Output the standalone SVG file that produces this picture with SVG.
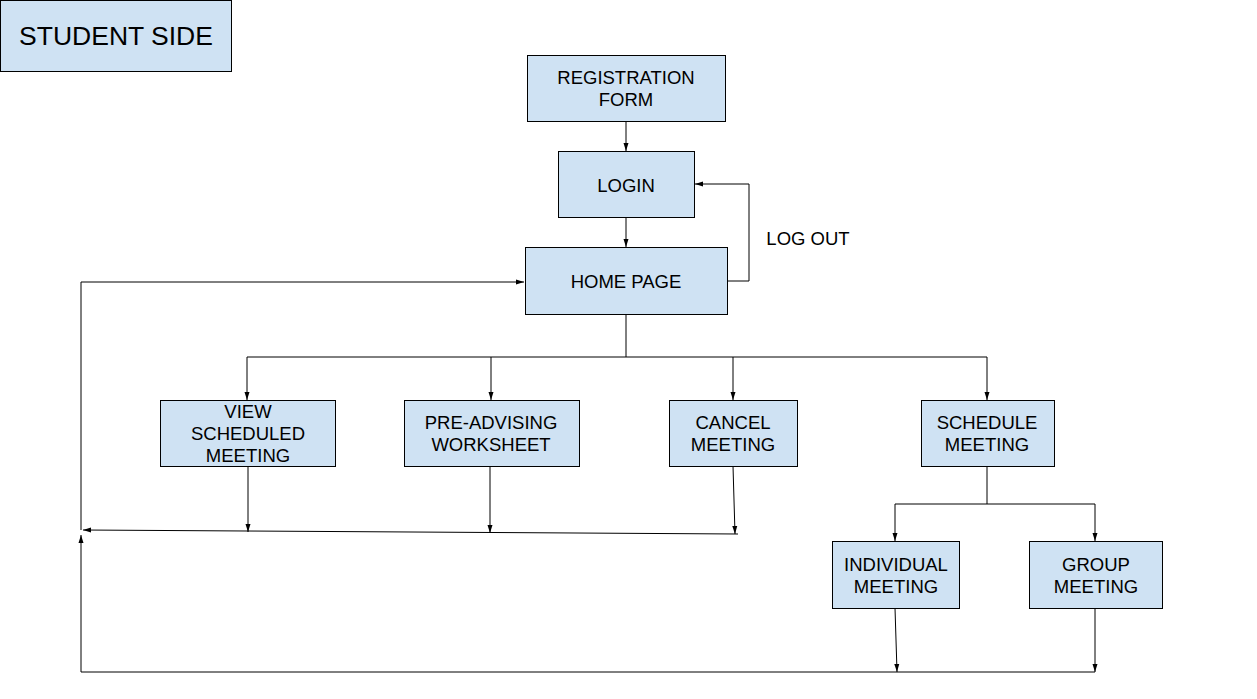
<svg xmlns="http://www.w3.org/2000/svg" width="1257" height="699" viewBox="0 0 1257 699">
<style>
.box{fill:#cfe2f3;stroke:#000;stroke-width:1}
.t{font-family:"Liberation Sans",Arial,sans-serif;font-size:18.5px;fill:#000;text-anchor:middle;dominant-baseline:central}
.c{fill:none;stroke:#000;stroke-width:1}
</style>
<defs>
<marker id="a" viewBox="0 0 8 8" refX="8" refY="4" markerWidth="8" markerHeight="8" markerUnits="userSpaceOnUse" orient="auto">
<path d="M0,1.5 L8,4 L0,6.5 z" fill="#000"/>
</marker>
</defs>
<rect width="1257" height="699" fill="#fff"/>
<g id="connectors">
<path class="c" d="M626,121 V151" marker-end="url(#a)"/>
<path class="c" d="M626,217 V247" marker-end="url(#a)"/>
<path class="c" d="M727,281 H749 V184 H695" marker-end="url(#a)"/>
<path class="c" d="M626,314 V357"/>
<path class="c" d="M247,357 H987"/>
<path class="c" d="M247,357 V400" marker-end="url(#a)"/>
<path class="c" d="M491,357 V400" marker-end="url(#a)"/>
<path class="c" d="M733,357 V400" marker-end="url(#a)"/>
<path class="c" d="M987,357 V400" marker-end="url(#a)"/>
<path class="c" d="M987,466 V504"/>
<path class="c" d="M895,504 H1095"/>
<path class="c" d="M895,504 V541" marker-end="url(#a)"/>
<path class="c" d="M1095,504 V541" marker-end="url(#a)"/>
<path class="c" d="M248,466 V532" marker-end="url(#a)"/>
<path class="c" d="M490,466 V533" marker-end="url(#a)"/>
<path class="c" d="M733,466 L735,534" marker-end="url(#a)"/>
<path class="c" d="M738,534 L83,530" marker-end="url(#a)"/>
<path class="c" d="M81,530 V282 H524" marker-end="url(#a)"/>
<path class="c" d="M81,672 V535" marker-end="url(#a)"/>
<path class="c" d="M81,672 H1095"/>
<path class="c" d="M895,608 L897,672" marker-end="url(#a)"/>
<path class="c" d="M1095,608 V672" marker-end="url(#a)"/>
</g>
<g id="student-side">
<rect class="box" x="0.5" y="0.5" width="231" height="71"/>
<text class="t" x="116" y="36" style="font-size:26.5px">STUDENT SIDE</text>
</g>
<g id="registration-form">
<rect class="box" x="527.5" y="55.5" width="198" height="66"/>
<text class="t" x="626" y="77">REGISTRATION</text>
<text class="t" x="626" y="99">FORM</text>
</g>
<g id="login">
<rect class="box" x="558.5" y="151.5" width="136" height="66"/>
<text class="t" x="626" y="185">LOGIN</text>
</g>
<g id="home-page">
<rect class="box" x="525.5" y="247.5" width="202" height="67"/>
<text class="t" x="626" y="281">HOME PAGE</text>
</g>
<g id="log-out-label">
<text class="t" x="808" y="238">LOG OUT</text>
</g>
<g id="view-scheduled-meeting">
<rect class="box" x="160.5" y="400.5" width="175" height="66"/>
<text class="t" x="248" y="411">VIEW</text>
<text class="t" x="248" y="433">SCHEDULED</text>
<text class="t" x="248" y="455">MEETING</text>
</g>
<g id="pre-advising-worksheet">
<rect class="box" x="404.5" y="400.5" width="175" height="66"/>
<text class="t" x="491" y="422">PRE-ADVISING</text>
<text class="t" x="491" y="444">WORKSHEET</text>
</g>
<g id="cancel-meeting">
<rect class="box" x="669.5" y="400.5" width="128" height="66"/>
<text class="t" x="733" y="422">CANCEL</text>
<text class="t" x="733" y="444">MEETING</text>
</g>
<g id="schedule-meeting">
<rect class="box" x="921.5" y="400.5" width="133" height="66"/>
<text class="t" x="987" y="422">SCHEDULE</text>
<text class="t" x="987" y="444">MEETING</text>
</g>
<g id="individual-meeting">
<rect class="box" x="832.5" y="541.5" width="127" height="67"/>
<text class="t" x="896" y="564">INDIVIDUAL</text>
<text class="t" x="896" y="586">MEETING</text>
</g>
<g id="group-meeting">
<rect class="box" x="1029.5" y="541.5" width="133" height="67"/>
<text class="t" x="1096" y="564">GROUP</text>
<text class="t" x="1096" y="586">MEETING</text>
</g>
</svg>
